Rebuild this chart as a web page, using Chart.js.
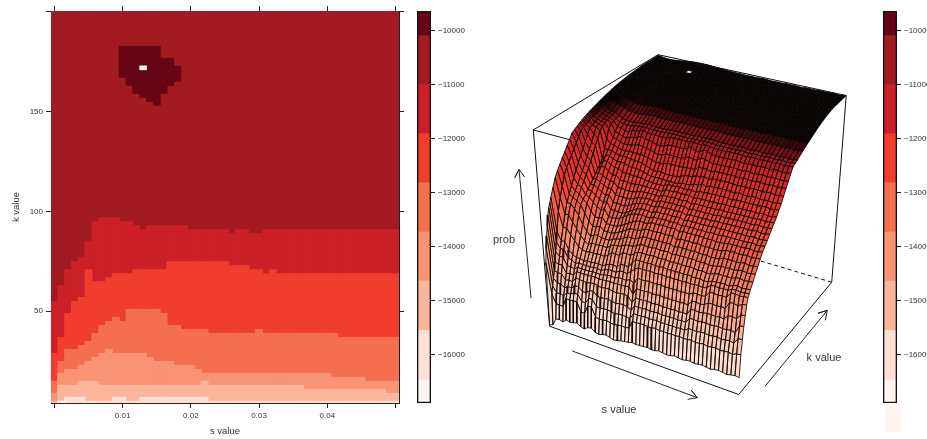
<!DOCTYPE html>
<html><head><meta charset="utf-8">
<style>html,body{margin:0;padding:0;background:#fff}#w{position:relative;width:927px;height:439px;overflow:hidden}canvas{position:absolute;left:0;top:0}</style>
<script src="https://cdn.jsdelivr.net/npm/chart.js@4"></script>
</head><body><div id="w"><canvas id="c1" width="927" height="439"></canvas><canvas id="c2" width="927" height="439"></canvas><canvas id="c3" width="927" height="439"></canvas><canvas id="c4" width="927" height="439"></canvas></div>
<script>
const sValues=[0,.001,.002,.003,.004,.005,.006,.007,.008,.009,.01,.011,.012,.013,.014,.015,.016,.017,.018,.019,.02,.021,.022,.023,.024,.025,.026,.027,.028,.029,.03,.031,.032,.033,.034,.035,.036,.037,.038,.039,.04,.041,.042,.043,.044,.045,.046,.047,.048,.049,.05];
const levelColors=['#fef5f0','#fde0d3','#fbb59b','#f89473','#f46f4f','#f03d2d','#cb2027','#a21b20','#660514'];
const levelBreaks=[-16889,-16463,-15546,-14630,-13722,-12809,-11902,-10994,-10087,-9630];
const legendTicks=[-10000,-11000,-12000,-13000,-14000,-15000,-16000];
// upper k of each colour band, per s column
const topBand0=[3.9,5,3.9,3.9,3.9,3.9,3.9,3.9,3.9,3.9,3.9,3.9,3.9,3.9,3.9,3.9,3.9,3.9,3.9,3.9,3.9,3.9,3.9,3.9,3.9,3.9,3.9,3.9,3.9,3.9,3.9,3.9,3.9,3.9,3.9,3.9,3.9,3.9,3.9,3.9,3.9,3.9,3.9,3.9,3.9,3.9,3.9,3.9,3.9,3.9,3.9];
const topBand1=[3.9,5,7,7,7,5,5,5,5,7,7,5,5,7,7,7,7,7,7,7,7,7,7,5,5,5,5,5,5,5,5,5,5,5,5,5,5,5,5,5,5,5,5,5,5,5,5,5,5,5,5];
const topBand2=[5,13,13,13,15,15,15,13,13,13,13,13,13,13,13,13,13,13,13,13,13,13,15,13,13,13,13,13,13,13,13,13,13,13,13,13,13,11,11,11,11,11,11,11,11,11,11,11,11,9,9];
const topBand3=[9,19,21,21,23,25,27,29,31,29,29,29,29,29,27,25,25,25,23,23,23,21,19,19,19,19,19,19,19,19,19,19,19,19,19,19,19,19,19,19,19,17,17,17,17,17,15,15,15,15,15];
const topBand4=[15,25,31,31,33,35,39,43,45,47,45,51,51,51,51,51,49,43,43,41,41,41,41,39,39,39,39,39,39,39,41,39,39,39,39,39,39,39,39,39,39,39,37,37,37,37,37,37,37,37,37];
const topBand5=[29,37,49,55,57,71,65,65,67,69,69,69,71,71,71,71,71,75,75,75,75,75,75,75,75,75,73,73,73,71,71,69,71,69,69,69,69,69,69,69,69,69,69,69,69,69,69,69,69,69,69];
const topBand6=[55,63,71,75,77,85,95,97,97,97,95,95,93,91,93,93,93,93,93,93,91,91,91,91,91,91,89,91,91,89,89,91,91,91,91,91,91,91,91,91,91,91,91,91,91,91,91,91,91,91,91];
const peakLow=[null,null,null,null,null,null,null,null,null,null,167,163,159,157,155,153,159,163,165];
const peakHigh=[null,null,null,null,null,null,null,null,null,null,183,183,183,183,183,183,177,177,173];
// surface: k rows and heights, value × −10 gives the log-probability
const kRows=[4,6,8,10,12,14,16,18,20,24,28,32,36,40,44,48,52,56,60,64,68,72,76,80,84,88,92,96,100,110,120,130,140,150,160,170,180,190,200];
const depthRows=[
[1655,1650,1625,1622,1626,1615,1618,1616,1612,1620,1624,1615,1612,1622,1625,1621,1618,1622,1626,1624,1620,1618,1616,1612,1614,1613,1612,1610,1613,1612,1608,1610,1612,1610,1606,1608,1610,1607,1605,1608,1606,1604,1606,1608,1604,1602,1604,1606,1603,1600,1602],
[1440,1544,1575,1574,1576,1543,1545,1542,1543,1572,1574,1544,1542,1573,1576,1574,1572,1575,1577,1574,1572,1573,1570,1544,1543,1542,1541,1544,1542,1540,1543,1541,1543,1540,1542,1539,1541,1540,1538,1541,1539,1537,1540,1538,1536,1539,1537,1535,1538,1532,1530],
[1395,1520,1540,1539,1542,1527,1528,1519,1520,1540,1541,1521,1519,1540,1542,1539,1538,1541,1543,1540,1539,1540,1542,1520,1521,1520,1518,1520,1519,1517,1520,1518,1519,1517,1519,1516,1518,1508,1507,1509,1506,1505,1507,1505,1503,1506,1504,1502,1505,1486,1484],
[1357,1497,1509,1508,1518,1509,1510,1497,1498,1509,1510,1498,1496,1508,1510,1507,1506,1509,1511,1508,1507,1509,1518,1498,1499,1498,1496,1498,1497,1495,1498,1496,1497,1495,1497,1494,1496,1478,1477,1479,1476,1475,1477,1475,1473,1476,1474,1472,1475,1448,1446],
[1327,1474,1478,1477,1494,1491,1492,1475,1476,1478,1479,1475,1473,1477,1479,1476,1475,1478,1480,1477,1476,1478,1494,1475,1476,1475,1473,1475,1474,1472,1475,1473,1474,1472,1474,1471,1473,1452,1451,1453,1450,1448,1447,1449,1446,1448,1433,1431,1434,1417,1415],
[1296,1448,1452,1451,1475,1472,1473,1457,1458,1457,1458,1456,1455,1457,1456,1455,1454,1455,1454,1453,1452,1450,1472,1448,1449,1448,1446,1448,1447,1445,1448,1446,1447,1445,1447,1444,1446,1429,1428,1430,1427,1418,1417,1419,1416,1418,1395,1393,1396,1387,1385],
[1275,1417,1429,1428,1452,1453,1455,1446,1448,1446,1447,1445,1444,1446,1443,1440,1439,1441,1436,1435,1437,1429,1440,1417,1418,1417,1415,1417,1416,1414,1417,1415,1416,1414,1416,1413,1415,1406,1405,1407,1404,1387,1386,1388,1385,1387,1368,1366,1369,1367,1365],
[1262,1387,1406,1405,1429,1433,1440,1435,1437,1435,1436,1434,1433,1435,1430,1425,1424,1426,1417,1416,1418,1406,1395,1387,1388,1387,1385,1387,1386,1384,1387,1385,1386,1384,1386,1383,1385,1383,1382,1384,1381,1368,1367,1369,1366,1368,1360,1358,1361,1359,1357],
[1248,1357,1383,1382,1406,1418,1425,1423,1428,1423,1424,1422,1421,1423,1417,1410,1409,1411,1399,1398,1400,1383,1368,1367,1368,1367,1365,1367,1366,1364,1367,1365,1366,1364,1366,1363,1365,1366,1364,1367,1365,1359,1358,1357,1356,1358,1351,1349,1352,1350,1348],
[1222,1296,1345,1344,1363,1377,1395,1400,1404,1400,1401,1399,1398,1400,1391,1380,1379,1381,1368,1367,1369,1358,1350,1349,1350,1349,1347,1349,1348,1346,1350,1347,1348,1346,1348,1345,1347,1348,1346,1349,1347,1343,1340,1341,1339,1341,1335,1333,1336,1334,1332],
[1197,1258,1308,1307,1327,1345,1364,1378,1387,1378,1379,1377,1376,1378,1368,1361,1360,1357,1349,1347,1346,1340,1332,1331,1332,1331,1329,1331,1330,1328,1333,1329,1330,1328,1330,1327,1329,1330,1328,1331,1329,1327,1322,1323,1321,1323,1318,1316,1319,1317,1315],
[1180,1228,1276,1277,1290,1308,1334,1352,1366,1357,1355,1360,1359,1360,1353,1348,1345,1337,1330,1329,1328,1322,1314,1313,1314,1313,1311,1313,1312,1310,1317,1311,1313,1311,1313,1310,1312,1313,1311,1314,1312,1310,1304,1305,1303,1305,1302,1300,1303,1301,1299],
[1166,1198,1256,1262,1270,1279,1304,1326,1339,1337,1332,1343,1342,1343,1338,1333,1326,1318,1310,1309,1308,1304,1296,1295,1296,1295,1293,1295,1294,1292,1301,1293,1295,1293,1295,1292,1294,1295,1293,1296,1294,1293,1286,1287,1285,1287,1285,1283,1286,1284,1282],
[1151,1180,1235,1247,1254,1268,1277,1300,1314,1316,1309,1326,1325,1326,1323,1317,1310,1302,1295,1288,1285,1286,1285,1278,1279,1278,1276,1278,1277,1275,1283,1276,1278,1276,1278,1275,1277,1278,1276,1279,1277,1276,1272,1273,1271,1273,1271,1269,1272,1270,1268],
[1138,1166,1215,1232,1239,1258,1264,1277,1287,1296,1287,1310,1309,1308,1304,1296,1288,1280,1276,1273,1272,1273,1274,1267,1268,1267,1265,1267,1266,1264,1270,1265,1267,1265,1267,1264,1266,1264,1263,1265,1262,1262,1261,1262,1260,1262,1260,1258,1261,1259,1257],
[1124,1152,1195,1216,1224,1248,1250,1260,1269,1277,1270,1293,1292,1293,1294,1288,1280,1272,1266,1262,1261,1262,1263,1256,1257,1256,1254,1256,1255,1253,1260,1254,1256,1254,1256,1253,1255,1252,1251,1253,1250,1252,1250,1251,1249,1251,1249,1247,1250,1248,1246],
[1110,1138,1178,1201,1209,1238,1236,1244,1252,1260,1254,1276,1275,1276,1277,1272,1265,1258,1254,1251,1250,1251,1252,1245,1246,1245,1243,1245,1244,1242,1250,1243,1245,1243,1245,1242,1244,1241,1240,1242,1239,1240,1238,1239,1237,1239,1237,1235,1238,1236,1234],
[1096,1124,1161,1185,1194,1228,1222,1231,1236,1243,1240,1258,1257,1258,1259,1256,1252,1246,1243,1241,1240,1241,1242,1234,1235,1234,1232,1234,1233,1231,1238,1232,1234,1232,1234,1231,1233,1230,1229,1231,1228,1229,1227,1228,1226,1228,1226,1224,1227,1225,1223],
[1090,1110,1145,1167,1176,1216,1207,1215,1219,1226,1224,1240,1239,1240,1241,1240,1236,1232,1231,1230,1229,1230,1231,1223,1224,1223,1221,1223,1222,1220,1227,1221,1223,1221,1223,1220,1222,1219,1218,1220,1217,1218,1216,1217,1215,1217,1215,1213,1216,1214,1212],
[1085,1096,1128,1149,1158,1206,1194,1194,1202,1213,1209,1222,1221,1222,1223,1222,1219,1220,1219,1220,1219,1220,1221,1211,1212,1211,1209,1211,1210,1208,1215,1209,1211,1209,1211,1208,1210,1207,1206,1208,1205,1206,1205,1206,1204,1206,1204,1202,1205,1203,1201],
[1080,1092,1111,1131,1140,1197,1181,1181,1187,1194,1194,1203,1202,1203,1204,1203,1204,1207,1208,1210,1209,1210,1208,1201,1202,1201,1199,1201,1200,1198,1203,1194,1197,1193,1195,1192,1194,1191,1193,1194,1191,1192,1190,1191,1189,1191,1189,1187,1190,1188,1186],
[1075,1088,1095,1113,1122,1184,1169,1169,1175,1180,1179,1179,1186,1186,1187,1188,1191,1195,1198,1198,1197,1198,1199,1198,1199,1197,1193,1193,1192,1185,1186,1178,1184,1178,1179,1177,1178,1176,1178,1179,1176,1177,1178,1176,1175,1177,1176,1174,1177,1175,1173],
[1071,1084,1091,1095,1104,1158,1157,1158,1163,1167,1166,1165,1169,1170,1170,1172,1177,1182,1186,1185,1184,1186,1187,1185,1186,1181,1175,1173,1172,1165,1166,1161,1167,1161,1162,1160,1161,1159,1161,1162,1159,1160,1161,1159,1158,1160,1159,1157,1160,1158,1156],
[1067,1080,1087,1091,1095,1131,1144,1146,1151,1155,1154,1153,1153,1154,1153,1154,1157,1162,1166,1165,1164,1158,1159,1158,1159,1158,1157,1156,1155,1145,1146,1144,1150,1144,1145,1143,1144,1142,1144,1145,1142,1143,1144,1142,1141,1143,1142,1140,1143,1141,1139],
[1063,1076,1083,1087,1090,1105,1130,1132,1138,1141,1140,1139,1135,1131,1135,1136,1138,1143,1146,1145,1139,1138,1139,1138,1139,1134,1128,1133,1132,1122,1123,1128,1130,1128,1129,1127,1128,1126,1128,1129,1126,1127,1128,1126,1125,1127,1126,1124,1127,1125,1123],
[1060,1073,1080,1084,1086,1094,1117,1119,1126,1128,1122,1121,1116,1109,1116,1117,1118,1125,1124,1123,1116,1115,1116,1115,1116,1110,1103,1113,1112,1103,1104,1111,1112,1111,1112,1110,1111,1109,1111,1112,1109,1110,1111,1109,1108,1110,1109,1107,1110,1108,1106],
[1057,1070,1077,1081,1083,1091,1105,1108,1113,1115,1106,1105,1101,1097,1102,1103,1102,1104,1103,1102,1098,1097,1098,1097,1098,1096,1094,1097,1096,1094,1095,1097,1098,1097,1098,1096,1097,1095,1097,1098,1095,1096,1097,1095,1094,1096,1095,1093,1096,1094,1092],
[1054,1067,1074,1078,1080,1088,1096,1098,1100,1100,1096,1095,1094,1093,1094,1095,1094,1095,1094,1093,1092,1092,1093,1092,1093,1092,1091,1092,1091,1090,1091,1092,1093,1092,1093,1091,1092,1090,1092,1093,1090,1091,1092,1090,1089,1091,1090,1088,1091,1089,1087],
[1051,1064,1071,1075,1077,1084,1091,1093,1094,1094,1092,1091,1090,1089,1090,1091,1090,1091,1090,1089,1088,1088,1089,1088,1089,1088,1087,1088,1087,1086,1087,1088,1089,1088,1089,1087,1088,1086,1088,1089,1086,1087,1088,1086,1085,1087,1086,1084,1087,1085,1083],
[1044,1056,1062,1065,1067,1072,1078,1079,1080,1080,1078,1077,1076,1075,1076,1077,1076,1077,1076,1075,1075,1076,1076,1075,1076,1076,1075,1076,1075,1074,1075,1076,1076,1075,1076,1074,1075,1074,1075,1076,1074,1074,1075,1073,1073,1074,1073,1072,1074,1072,1071],
[1038,1048,1053,1056,1058,1062,1066,1067,1067,1066,1064,1063,1062,1062,1063,1064,1064,1065,1065,1064,1064,1065,1065,1064,1065,1065,1064,1065,1064,1063,1064,1065,1065,1064,1065,1063,1064,1063,1064,1065,1063,1063,1064,1062,1062,1063,1062,1061,1063,1061,1060],
[1033,1041,1045,1048,1050,1053,1056,1056,1055,1054,1052,1051,1050,1050,1051,1052,1053,1054,1054,1054,1054,1055,1055,1054,1055,1055,1054,1055,1054,1053,1054,1055,1055,1054,1055,1053,1054,1053,1054,1055,1053,1053,1054,1052,1052,1053,1052,1051,1053,1051,1050],
[1029,1035,1039,1041,1043,1045,1046,1045,1043,1041,1039,1037,1036,1036,1037,1039,1041,1043,1044,1044,1045,1045,1045,1044,1045,1045,1044,1045,1044,1043,1044,1045,1045,1044,1045,1043,1044,1043,1044,1045,1043,1043,1044,1042,1042,1043,1042,1041,1043,1041,1040],
[1026,1030,1034,1036,1037,1038,1037,1034,1031,1028,1025,1022,1021,1020,1020,1022,1026,1030,1033,1035,1036,1037,1037,1036,1037,1037,1036,1037,1036,1035,1036,1037,1037,1036,1037,1035,1036,1035,1036,1037,1035,1035,1036,1034,1034,1035,1034,1033,1035,1033,1032],
[1024,1027,1030,1032,1033,1033,1031,1027,1023,1019,1015,1012,1009,1008,1007,1007,1009,1015,1020,1024,1027,1029,1030,1030,1031,1031,1030,1031,1030,1029,1030,1031,1031,1030,1031,1029,1030,1029,1030,1031,1029,1029,1030,1028,1028,1029,1028,1027,1029,1027,1026],
[1022,1025,1028,1029,1029,1028,1025,1021,1017,1013,1008,1005,1003,1002,1002,1003,1005,1007,1008,1014,1019,1022,1024,1025,1026,1026,1025,1026,1025,1024,1025,1026,1026,1025,1026,1024,1025,1024,1025,1026,1024,1024,1025,1023,1023,1024,1023,1022,1024,1022,1021],
[1021,1024,1026,1027,1027,1026,1023,1020,1016,1012,1007,1006,1005,1005,1005,1006,1012,1014,1016,1018,1020,1022,1023,1024,1025,1025,1024,1025,1024,1023,1024,1025,1025,1024,1025,1023,1024,1023,1024,1025,1023,1023,1024,1022,1022,1023,1022,1021,1023,1021,1020],
[1021,1023,1025,1026,1026,1025,1023,1021,1018,1016,1014,1013,1012,1012,1013,1014,1015,1017,1018,1019,1020,1021,1022,1023,1024,1024,1023,1024,1023,1022,1023,1024,1024,1023,1024,1022,1023,1022,1023,1024,1022,1022,1023,1021,1021,1022,1021,1020,1022,1020,1019],
[1020,1022,1024,1025,1025,1024,1023,1021,1020,1018,1017,1016,1016,1016,1016,1017,1018,1019,1019,1020,1021,1021,1022,1022,1023,1023,1022,1023,1022,1021,1022,1023,1023,1022,1023,1021,1022,1021,1022,1023,1021,1021,1022,1020,1020,1021,1020,1019,1021,1019,1018]];

Chart.defaults.font.family='"Liberation Sans",Arial,sans-serif';
Chart.defaults.animation=false;
Chart.defaults.color='#333';
const INK='#222';
const base={responsive:false,devicePixelRatio:1,plugins:{legend:{display:false},tooltip:{enabled:false}},events:[]};

/* ---------- left panel: level plot ---------- */
const kBottom=3.9,kTop=200.5;
const bandTops=[topBand0,topBand1,topBand2,topBand3,topBand4,topBand5,topBand6];
const heatSets=[];
heatSets.push({data:sValues.map((_,i)=>i===13?[171,173]:null),backgroundColor:'#ffffff',order:0,barPercentage:1});
heatSets.push({data:sValues.map((_,i)=>peakLow[i]?[peakLow[i],peakHigh[i]]:null),backgroundColor:levelColors[8],order:1,barPercentage:1.15});
heatSets.push({data:sValues.map(()=>[kBottom,kTop]),backgroundColor:levelColors[7],order:20,barPercentage:1.5});
bandTops.forEach((t,b)=>heatSets.push({data:t.map(v=>[kBottom,v]),backgroundColor:levelColors[b],order:2+b,barPercentage:1.15}));
const xTicksAt=[0,10,20,30,40,50];
const keepX=s=>{s.ticks=s.ticks.filter(t=>xTicksAt.includes(t.value));};
const setY=s=>{s.ticks=[50,100,150,200].map(v=>({value:v}));};
const gridAxis={drawOnChartArea:false,color:INK,tickColor:INK,tickLength:5,offset:false};
new Chart(document.getElementById('c1'),{type:'bar',data:{labels:sValues.map(String),datasets:heatSets},
 options:{...base,layout:{padding:0},datasets:{bar:{categoryPercentage:1,grouped:false,borderWidth:0}},
 scales:{
  x:{type:'category',position:'bottom',offset:true,grid:gridAxis,border:{color:INK},afterBuildTicks:keepX,
     ticks:{autoSkip:false,maxRotation:0,font:{size:8},padding:3,callback(v){return [10,20,30,40].includes(v)?String(sValues[v]):'';}},
     title:{display:true,text:'s value',font:{size:9.5},padding:{top:0,bottom:2}},afterFit(s){s.height=36;}},
  x2:{type:'category',position:'top',offset:true,grid:gridAxis,border:{color:INK},afterBuildTicks:keepX,ticks:{display:false,autoSkip:false},afterFit(s){s.height=11;}},
  y:{type:'linear',position:'left',min:kBottom,max:kTop,grid:gridAxis,border:{color:INK},afterBuildTicks:setY,
     ticks:{font:{size:8},padding:3,callback(v){return v===200?'':String(v);}},
     title:{display:true,text:'k value',font:{size:9.5},padding:{top:11,bottom:0}},afterFit(s){s.width=51;}},
  y2:{type:'linear',position:'right',min:kBottom,max:kTop,grid:gridAxis,border:{color:INK},afterBuildTicks:setY,ticks:{display:false},afterFit(s){s.width=528;}}
 }}});

/* ---------- colour keys ---------- */
function colorKey(id,left,right){
 const sets=[{data:[[levelBreaks[0],levelBreaks[9]]],backgroundColor:'transparent',borderColor:'#111',borderWidth:1,borderSkipped:false,order:0}];
 levelColors.forEach((c,i)=>sets.push({data:[[levelBreaks[i],levelBreaks[i+1]]],backgroundColor:c,order:1+i}));
 new Chart(document.getElementById(id),{type:'bar',data:{labels:['key'],datasets:sets},
 options:{...base,layout:{padding:{left:left,top:11,bottom:36,right:0}},datasets:{bar:{barPercentage:1,categoryPercentage:1,grouped:false}},
 scales:{x:{display:false},
  y:{type:'linear',position:'right',min:levelBreaks[0],max:levelBreaks[9],grid:{drawOnChartArea:false,color:INK,tickColor:INK,tickLength:4},border:{display:false},
   afterBuildTicks(s){s.ticks=legendTicks.map(v=>({value:v}));},
   ticks:{font:{size:8},padding:3,callback(v){return '\u2212'+Math.abs(v);}},afterFit(s){s.width=927-right;}}}}});
}
colorKey('c2',417,431);
colorKey('c3',883,897);

/* ---------- right panel: wireframe ---------- */
const zBase=-16600,zRoof=-10180;
// where the cube's corners fall on the page: [u,v,w,pageX,pageY]
const cubeFit=[[1,0,0,738,395],[0,0,0,550,326],[1,1,0,832,282],[0,0,1,533,131],[1,1,1,846,96.5],[0,1,1,658,54],[1,0,1,745,185]];
function solve(A,b){const n=b.length;for(let i=0;i<n;i++){let p=i;for(let r=i+1;r<n;r++)if(Math.abs(A[r][i])>Math.abs(A[p][i]))p=r;[A[i],A[p]]=[A[p],A[i]];[b[i],b[p]]=[b[p],b[i]];for(let r=i+1;r<n;r++){const f=A[r][i]/A[i][i];for(let c=i;c<n;c++)A[r][c]-=f*A[i][c];b[r]-=f*b[i];}}const x=Array(n);for(let i=n-1;i>=0;i--){let t=b[i];for(let c=i+1;c<n;c++)t-=A[i][c]*x[c];x[i]=t/A[i][i];}return x;}
const M=(()=>{const R=[],Y=[];cubeFit.forEach(([u,v,w,X,Yp])=>{const x=X/1000,y=Yp/1000;R.push([u,v,w,1,0,0,0,0,-x*u,-x*v,-x*w]);Y.push(x);R.push([0,0,0,0,u,v,w,1,-y*u,-y*v,-y*w]);Y.push(y);});const n=11,A=Array.from({length:n},()=>Array(n).fill(0)),b=Array(n).fill(0);R.forEach((r,i)=>{for(let a=0;a<n;a++){b[a]+=r[a]*Y[i];for(let c=0;c<n;c++)A[a][c]+=r[a]*r[c];}});return solve(A,b);})();
function cube(u,v,w){const d=M[8]*u+M[9]*v+M[10]*w+1;return {x:1000*(M[0]*u+M[1]*v+M[2]*w+M[3])/d,y:1000*(M[4]*u+M[5]*v+M[6]*w+M[7])/d};}
const proj=(s,k,z)=>cube(s/.05,(k-4)/196,(z-zBase)/(zRoof-zBase));
const surfaceStops=[[-16600,[255,238,228]],[-15500,[253,218,202]],[-14600,[251,176,150]],[-13700,[248,140,108]],[-13000,[244,105,76]],[-12200,[240,61,45]],[-11200,[214,36,38]],[-10900,[170,27,32]],[-10720,[80,10,12]],[-10580,[10,4,4]],[-9000,[6,3,3]]];
function shade(z){for(let i=1;i<surfaceStops.length;i++){const [b,cb]=surfaceStops[i];if(z<=b){const [a,ca]=surfaceStops[i-1];const t=Math.max(0,(z-a)/(b-a));return `rgb(${ca.map((c,j)=>Math.round(c+(cb[j]-c)*t)).join(',')})`;}}return 'rgb(6,3,3)';}
const wireSets=[];
const boxLine=(a,b,order,dash)=>({data:[cube(...a),cube(...b)],borderColor:'#111',borderWidth:1,borderDash:dash||[],pointRadius:0,fill:false,order});
wireSets.push(boxLine([0,0,1],[0,1,1],500),boxLine([0,0,1],[1,0,1],500),boxLine([1,1,0],[0,1,0],500,[4,3]),boxLine([0,0,1],[0,0,0],-5));
for(let r=kRows.length-2;r>=0;r--){
 const pts=[],fills=[];
 for(let c=0;c<sValues.length-1;c++){
  const z=(i,j)=>-10*depthRows[i][j];
  pts.push(proj(sValues[c],kRows[r],z(r,c)),proj(sValues[c+1],kRows[r],z(r,c+1)),proj(sValues[c+1],kRows[r+1],z(r+1,c+1)),proj(sValues[c],kRows[r+1],z(r+1,c)),proj(sValues[c],kRows[r],z(r,c)),{x:NaN,y:NaN});
  fills.push(shade((z(r,c)+z(r,c+1)+z(r+1,c)+z(r+1,c+1))/4));
 }
 wireSets.push({data:pts,fill:'shape',backgroundColor:fills[0],borderColor:'#0a0505',borderWidth:.85,pointRadius:0,tension:0,spanGaps:false,order:r+1,
  segment:{backgroundColor:c=>fills[Math.floor(c.p0DataIndex/6)]}});
}
const noteSpot=[proj(.0125,170,-10100),proj(.0135,170,-10100),proj(.0135,174,-10100),proj(.0125,174,-10100)];
wireSets.push({data:noteSpot,fill:'shape',backgroundColor:'#fff',borderWidth:0,pointRadius:0,order:0});
wireSets.push(boxLine([0,0,0],[1,0,0],-1),boxLine([1,0,0],[1,1,0],-1),boxLine([1,1,0],[1,1,1],-1),boxLine([0,1,1],[1,1,1],-1));
// direction arrows and the pale tab under the right key, in page units
const arrowProb=[{x:531,y:298},{x:519,y:169.5},{x:514.7,y:177.7},{x:519,y:169.5},{x:524.7,y:177}];
const arrowS=[{x:572.3,y:351},{x:697.3,y:397.7},{x:691,y:390},{x:697.3,y:397.7},{x:687.7,y:399.3}];
const arrowK=[{x:765.3,y:386},{x:827.3,y:310.3},{x:818,y:313.3},{x:827.3,y:310.3},{x:825.3,y:320.3}];
[arrowProb,arrowS,arrowK].forEach(a=>wireSets.push({data:a,borderColor:'#222',borderWidth:1,pointRadius:0,fill:false,order:-2}));
wireSets.push({data:[{x:885,y:404},{x:901,y:404},{x:901,y:432},{x:885,y:432}],fill:'shape',backgroundColor:'#fff5f0',borderWidth:0,pointRadius:0,order:-3});
const wireLabels=[['prob',504,240],['s value',619,410],['k value',824,358]];
new Chart(document.getElementById('c4'),{type:'line',data:{datasets:wireSets},
 options:{...base,layout:{padding:0},
 scales:{x:{type:'linear',display:false,min:0,max:927},y:{type:'linear',display:false,min:0,max:439,reverse:true}}},
 plugins:[{id:'wireText',afterDraw(ch){const g=ch.ctx;g.save();g.fillStyle='#333';g.font='11px "Liberation Sans",Arial,sans-serif';g.textAlign='center';g.textBaseline='middle';wireLabels.forEach(([t,x,y])=>g.fillText(t,ch.scales.x.getPixelForValue(x),ch.scales.y.getPixelForValue(y)));g.restore();}}]});
</script></body></html>
